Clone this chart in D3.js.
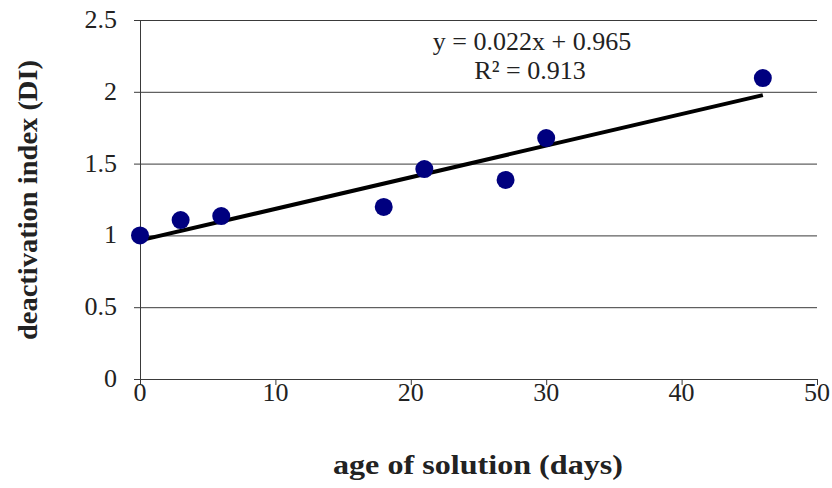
<!DOCTYPE html>
<meta charset="utf-8">
<style>
body { margin: 0; background: #fff; }
svg text { font-family: "Liberation Serif", "DejaVu Serif", serif; fill: #222; }
</style>
<body>
<svg id="chart" width="832" height="488"></svg>
<script src="https://d3js.org/d3.v7.min.js"></script>
<script>

var days = [0, 3, 6, 18, 21, 27, 30, 46];
var di = [1.0, 1.107, 1.135, 1.198, 1.462, 1.386, 1.678, 2.096];
var slope = 0.022, intercept = 0.965;
var xTicks = [0, 10, 20, 30, 40, 50];
var yTicks = [0, 0.5, 1, 1.5, 2, 2.5];

var svg = d3.select("#chart");

var x = d3.scaleLinear().domain([0, 50]).range([140, 817]);
var y = d3.scaleLinear().domain([0, 2.5]).range([379, 20]);

// horizontal grid, ticks run out past the y axis
svg.append("g")
    .selectAll("line")
    .data(yTicks)
    .join("line")
    .attr("x1", x(0) - 6)
    .attr("x2", x(50))
    .attr("y1", function(d) { return y(d) + 0.5; })
    .attr("y2", function(d) { return y(d) + 0.5; })
    .attr("stroke", "#3a3a3a")
    .attr("stroke-width", 1);

// y axis line
svg.append("line")
    .attr("x1", x(0) + 0.5).attr("x2", x(0) + 0.5)
    .attr("y1", y(2.5)).attr("y2", y(0) + 6)
    .attr("stroke", "#3a3a3a");

// x ticks
svg.append("g")
    .selectAll("line")
    .data(xTicks)
    .join("line")
    .attr("x1", function(d) { return x(d) + 0.5; })
    .attr("x2", function(d) { return x(d) + 0.5; })
    .attr("y1", y(0))
    .attr("y2", y(0) + 6)
    .attr("stroke", "#3a3a3a");

svg.append("g")
    .selectAll("text")
    .data(yTicks)
    .join("text")
    .attr("x", 117)
    .attr("y", function(d) { return y(d) + 8; })
    .attr("text-anchor", "end")
    .style("font-size", "26px")
    .text(function(d) { return d; });

svg.append("g")
    .selectAll("text")
    .data(xTicks)
    .join("text")
    .attr("x", function(d) { return x(d); })
    .attr("y", 401)
    .attr("text-anchor", "middle")
    .style("font-size", "26px")
    .text(function(d) { return d; });

// trend line
svg.append("line")
    .attr("x1", x(0)).attr("y1", y(intercept))
    .attr("x2", x(46)).attr("y2", y(slope * 46 + intercept))
    .attr("stroke", "#000")
    .attr("stroke-width", 4);

svg.append("g")
    .selectAll("circle")
    .data(days)
    .join("circle")
    .attr("cx", function(d) { return x(d); })
    .attr("cy", function(d, i) { return y(di[i]); })
    .attr("r", 9)
    .attr("fill", "#00007f");

svg.append("text")
    .attr("x", 532).attr("y", 50)
    .attr("text-anchor", "middle")
    .style("font-size", "26px")
    .text("y = 0.022x + 0.965");
svg.append("text")
    .attr("x", 530).attr("y", 79)
    .attr("text-anchor", "middle")
    .style("font-size", "26px")
    .text("R² = 0.913");

svg.append("text")
    .attr("x", 478).attr("y", 474)
    .attr("text-anchor", "middle")
    .attr("textLength", 290)
    .attr("lengthAdjust", "spacingAndGlyphs")
    .style("font-size", "27px")
    .style("font-weight", "bold")
    .text("age of solution (days)");

svg.append("text")
    .attr("transform", "translate(37,200) rotate(-90)")
    .attr("text-anchor", "middle")
    .attr("textLength", 280)
    .attr("lengthAdjust", "spacingAndGlyphs")
    .style("font-size", "27px")
    .style("font-weight", "bold")
    .text("deactivation index (DI)");

</script>
</body>
